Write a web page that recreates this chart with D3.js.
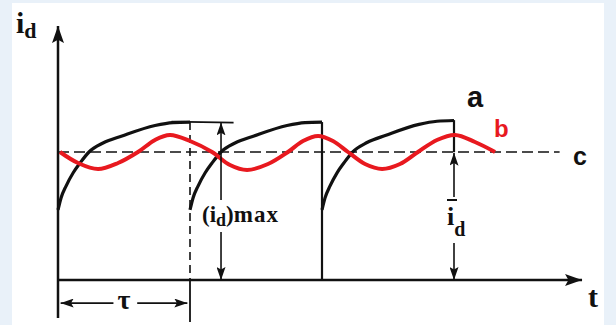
<!DOCTYPE html>
<html>
<head>
<meta charset="utf-8">
<script src="https://cdn.jsdelivr.net/npm/d3@7"></script>
<style>
  body { margin: 0; background: #fff; }
  svg { display: block; }
</style>
</head>
<body>
<svg width="616" height="325"></svg>
<script>
// time in units of tau, current in units of the mean value (c = 1)
const periods = [0, 1, 2];
// one period of curve a: [t offset, i]
const aShape = [
  [0, 0.547], [0.023, 0.641], [0.061, 0.734], [0.114, 0.836], [0.167, 0.914],
  [0.235, 1.0], [0.341, 1.070], [0.485, 1.125], [0.735, 1.207], [0.871, 1.230], [1, 1.234]
];
// curve b: [t, i]
const bWave = [
  [0.015, 1.0], [0.152, 0.914], [0.303, 0.867], [0.455, 0.914], [0.606, 1.0],
  [0.735, 1.094], [0.848, 1.133], [1.0, 1.086], [1.167, 1.0], [1.303, 0.898],
  [1.432, 0.859], [1.591, 0.906], [1.742, 1.0], [1.856, 1.086], [1.970, 1.125],
  [2.083, 1.086], [2.197, 1.0], [2.326, 0.906], [2.455, 0.867], [2.591, 0.906],
  [2.727, 1.0], [2.871, 1.094], [3.008, 1.133], [3.159, 1.078], [3.311, 1.0]
];
const cLevel = 1;
const cEnd = 3.80;
const iMax = 1.234;
const tAxisEnd = 3.97;
const iAxisEnd = 1.984;
const iMaxArrowT = 1.235;
const iMeanArrowT = 3.0;

const svg = d3.select("svg");
const W = 616, H = 325;

const x = d3.scaleLinear().domain([0, 4]).range([58, 58 + 4 * 132]);
const y = d3.scaleLinear().domain([0, 1]).range([280, 152]);

// background frame
svg.append("rect").attr("width", W).attr("height", H).attr("fill", "#e9f1f9");
svg.append("rect").attr("x", 12).attr("y", 3).attr("width", 592).attr("height", H - 3).attr("fill", "#fff");

const defs = svg.append("defs");
function marker(id, len, half) {
  defs.append("marker")
    .attr("id", id)
    .attr("viewBox", `${-len} ${-half} ${len} ${half * 2}`)
    .attr("markerUnits", "userSpaceOnUse")
    .attr("markerWidth", len).attr("markerHeight", half * 2)
    .attr("refX", 0).attr("refY", 0)
    .attr("orient", "auto-start-reverse")
    .append("path")
    .attr("d", `M0,0L${-len},${-half}L${-len * 0.8},0L${-len},${half}Z`)
    .attr("fill", "#111");
}
marker("big", 17, 6);
marker("small", 13, 4.5);

const ink = "#111";
function seg(t1, i1, t2, i2, w, extra) {
  const l = svg.append("line")
    .attr("x1", x(t1)).attr("y1", y(i1))
    .attr("x2", x(t2)).attr("y2", y(i2))
    .attr("stroke", ink).attr("stroke-width", w);
  if (extra) extra(l);
  return l;
}

// axes
seg(0, -0.297, 0, iAxisEnd, 2.5, l => l.attr("marker-end", "url(#big)"));
seg(0, 0, tAxisEnd, 0, 2.5, l => l.attr("marker-end", "url(#big)"));

// c: mean level
seg(0, cLevel, cEnd, cLevel, 1.6, l => l.attr("stroke-dasharray", "11,5"));

// period boundary lines
seg(1, iMax, 1, 0, 1.6, l => l.attr("stroke-dasharray", "8,5"));
seg(1, 0, 1, -0.328, 1.8);
seg(2, iMax, 2, 0, 2.2);
seg(3, iMax + 0.015, 3, cLevel, 2.2);

// curve a
const lineA = d3.line().x(d => x(d[0])).y(d => y(d[1])).curve(d3.curveMonotoneX);
svg.append("g").selectAll("path")
  .data(periods)
  .join("path")
  .attr("d", p => lineA(aShape.map(d => [p + d[0], d[1] + (p === 2 ? 0.012 * d[0] : 0)])))
  .attr("fill", "none").attr("stroke", ink).attr("stroke-width", 3.2);

// (id)max extension line
seg(0.86, iMax + 0.004, 1.33, iMax - 0.004, 1.8);

// curve b
const lineB = d3.line().x(d => x(d[0])).y(d => y(d[1])).curve(d3.curveCatmullRom.alpha(0.5));
svg.append("path")
  .datum(bWave)
  .attr("d", lineB)
  .attr("fill", "none").attr("stroke", "#e8191f").attr("stroke-width", 4)
  .attr("stroke-linejoin", "round");

// (id)max dimension
seg(iMaxArrowT, 0.625, iMaxArrowT, iMax - 0.003, 1.6, l => l.attr("marker-end", "url(#small)"));
seg(iMaxArrowT, 0.375, iMaxArrowT, 0, 1.6, l => l.attr("marker-end", "url(#small)"));

// mean dimension
seg(iMeanArrowT, 0.648, iMeanArrowT, cLevel - 0.005, 1.6, l => l.attr("marker-end", "url(#small)"));
seg(iMeanArrowT, 0.289, iMeanArrowT, 0, 1.6, l => l.attr("marker-end", "url(#small)"));

// tau dimension
seg(0.02, -0.18, 0.42, -0.18, 1.8, l => l.attr("marker-start", "url(#small)"));
seg(0.60, -0.18, 0.98, -0.18, 1.8, l => l.attr("marker-end", "url(#small)"));

// labels
const serif = "'Liberation Serif', 'Times New Roman', serif";
const sans = "'Liberation Sans', Arial, sans-serif";

const idLab = svg.append("text").attr("x", 16).attr("y", 33)
  .attr("font-family", serif).attr("font-weight", "bold").attr("fill", ink);
idLab.append("tspan").attr("font-size", 30).text("i");
idLab.append("tspan").attr("font-size", 22).attr("dy", 5).text("d");

svg.append("text").attr("x", 588).attr("y", 307)
  .attr("font-family", serif).attr("font-weight", "bold").attr("font-size", 30)
  .attr("fill", ink).text("t");

svg.append("text").attr("x", x(0.5)).attr("y", 309).attr("text-anchor", "middle")
  .attr("font-family", serif).attr("font-weight", "bold").attr("font-size", 28)
  .attr("fill", ink).text("τ");

const maxLab = svg.append("text").attr("x", 202).attr("y", 222)
  .attr("font-family", serif).attr("font-weight", "bold").attr("fill", ink);
maxLab.append("tspan").attr("font-size", 23).text("(i");
maxLab.append("tspan").attr("font-size", 18).attr("dy", 4).text("d");
maxLab.append("tspan").attr("font-size", 23).attr("dy", -4).text(")");
maxLab.append("tspan").attr("font-size", 23).attr("letter-spacing", 1).text("max");

const meanLab = svg.append("text").attr("x", 447).attr("y", 225)
  .attr("font-family", serif).attr("font-weight", "bold").attr("fill", ink);
meanLab.append("tspan").attr("font-size", 26).text("i");
meanLab.append("tspan").attr("font-size", 20).attr("dy", 11).text("d");
svg.append("line").attr("x1", 447).attr("x2", 457).attr("y1", 200).attr("y2", 200)
  .attr("stroke", ink).attr("stroke-width", 2);

svg.append("text").attr("x", 467).attr("y", 107)
  .attr("font-family", sans).attr("font-weight", "bold").attr("font-size", 29)
  .attr("fill", ink).text("a");
svg.append("text").attr("x", 494).attr("y", 137)
  .attr("font-family", sans).attr("font-weight", "bold").attr("font-size", 24)
  .attr("fill", "#e8191f").text("b");
svg.append("text").attr("x", 573).attr("y", 165)
  .attr("font-family", sans).attr("font-weight", "bold").attr("font-size", 25)
  .attr("fill", ink).text("c");
</script>
</body>
</html>
